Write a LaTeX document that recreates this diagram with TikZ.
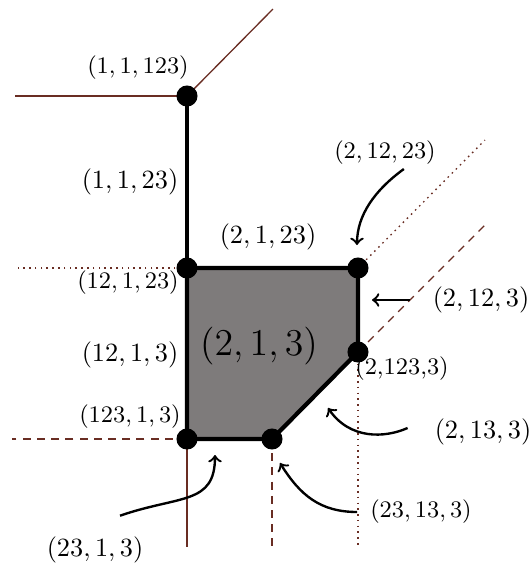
\documentclass[tikz,border=0pt]{standalone}
\usepackage{amsmath}
\usepackage{amssymb}
\usepackage{xcolor}
\usepackage{tikz}

\definecolor{raycol}{RGB}{105,45,35}
\definecolor{cellgray}{RGB}{126,123,123}

\begin{document}
\begin{tikzpicture}[x=0.38pt, y=-0.38pt,
                    ray/.style={draw=raycol, line width=0.5pt},
                    dashray/.style={ray, dash pattern=on 3pt off 2.4pt},
                    dotray/.style={ray, dash pattern=on 0.6pt off 1.6pt},
                    edge/.style={line width=1.6pt},
                    vert/.style={circle, fill=black, inner sep=0pt, minimum size=8pt},
                    lbl/.style={inner sep=1pt},
                    sm/.style={font=\small, inner sep=1pt},
                    arr/.style={->, line width=0.9pt}]
  \useasboundingbox (0,0) rectangle (530,567);

  \coordinate (p1) at (187,96);
  \coordinate (p2) at (187,268);
  \coordinate (p3) at (358,268);
  \coordinate (p4) at (358,352);
  \coordinate (p5) at (272,439);
  \coordinate (p6) at (187,439);

  \coordinate (r1a) at (15,96);
  \coordinate (r1b) at (273,9);
  \coordinate (r2) at (17,268);
  \coordinate (r3) at (485,140);
  \coordinate (r4a) at (485,225);
  \coordinate (r4b) at (358,548);
  \coordinate (r5) at (272,548);
  \coordinate (r6a) at (12,439);
  \coordinate (r6b) at (187,547);

  \draw[ray] (p1) -- (r1a);
  \draw[ray] (p1) -- (r1b);
  \draw[dotray] (p2) -- (r2);
  \draw[dotray] (p3) -- (r3);
  \draw[dashray] (p4) -- (r4a);
  \draw[dotray] (p4) -- (r4b);
  \draw[dashray] (p5) -- (r5);
  \draw[dashray] (p6) -- (r6a);
  \draw[ray] (p6) -- (r6b);

  \filldraw[fill=cellgray, edge] (p2) -- (p3) -- (p4) -- (p5) -- (p6) -- cycle;
  \draw[edge] (p1) -- (p2);

  \foreach \p in {p1,p2,p3,p4,p5,p6}
    \node[vert] at (\p) {};

  \node[sm]  (l1)  at (138,68)  {\((1, 1, 123)\)};
  \node[lbl] (l2)  at (130,182) {\((1, 1, 23)\)};
  \node[lbl] (l3)  at (268,237) {\((2, 1, 23)\)};
  \node[sm]  (l4)  at (128,283) {\((12, 1, 23)\)};
  \node[lbl] (l5)  at (130,355) {\((12, 1, 3)\)};
  \node[lbl, font=\Large] (cell) at (259,346) {\((2, 1, 3)\)};
  \node[sm]  (l6)  at (130,417) {\((123, 1, 3)\)};
  \node[sm]  (l7)  at (385,153) {\((2, 12, 23)\)};
  \node[lbl] (l8)  at (481,300) {\((2, 12, 3)\)};
  \node[sm]  (l9)  at (402,369) {(2,123,3)};
  \node[lbl] (l10) at (483,432) {\((2, 13, 3)\)};
  \node[sm]  (l11) at (421,512) {\((23, 13, 3)\)};
  \node[lbl] (l12) at (95,550)  {\((23, 1, 3)\)};

  \coordinate (h7) at (357,245);
  \coordinate (h8) at (372,300);
  \coordinate (h10) at (328,408);
  \coordinate (h11) at (280,463);
  \coordinate (h12) at (215,455);

  \draw[arr] (l7.south east) ++(-35,1) .. controls (375,190) and (357,215) .. (h7);
  \draw[arr, shorten <=20pt*0.38] (l8.west) -- (h8);
  \draw[arr] (l10.west) ++(-24,-4) .. controls (385,438) and (350,440) .. (h10);
  \draw[arr] (l11.west) ++(-10,0) .. controls (320,512) and (300,495) .. (h11);
  \draw[arr] (l12.north) ++(25,-18) .. controls (180,495) and (215,505) .. (h12);
\end{tikzpicture}
\end{document}
